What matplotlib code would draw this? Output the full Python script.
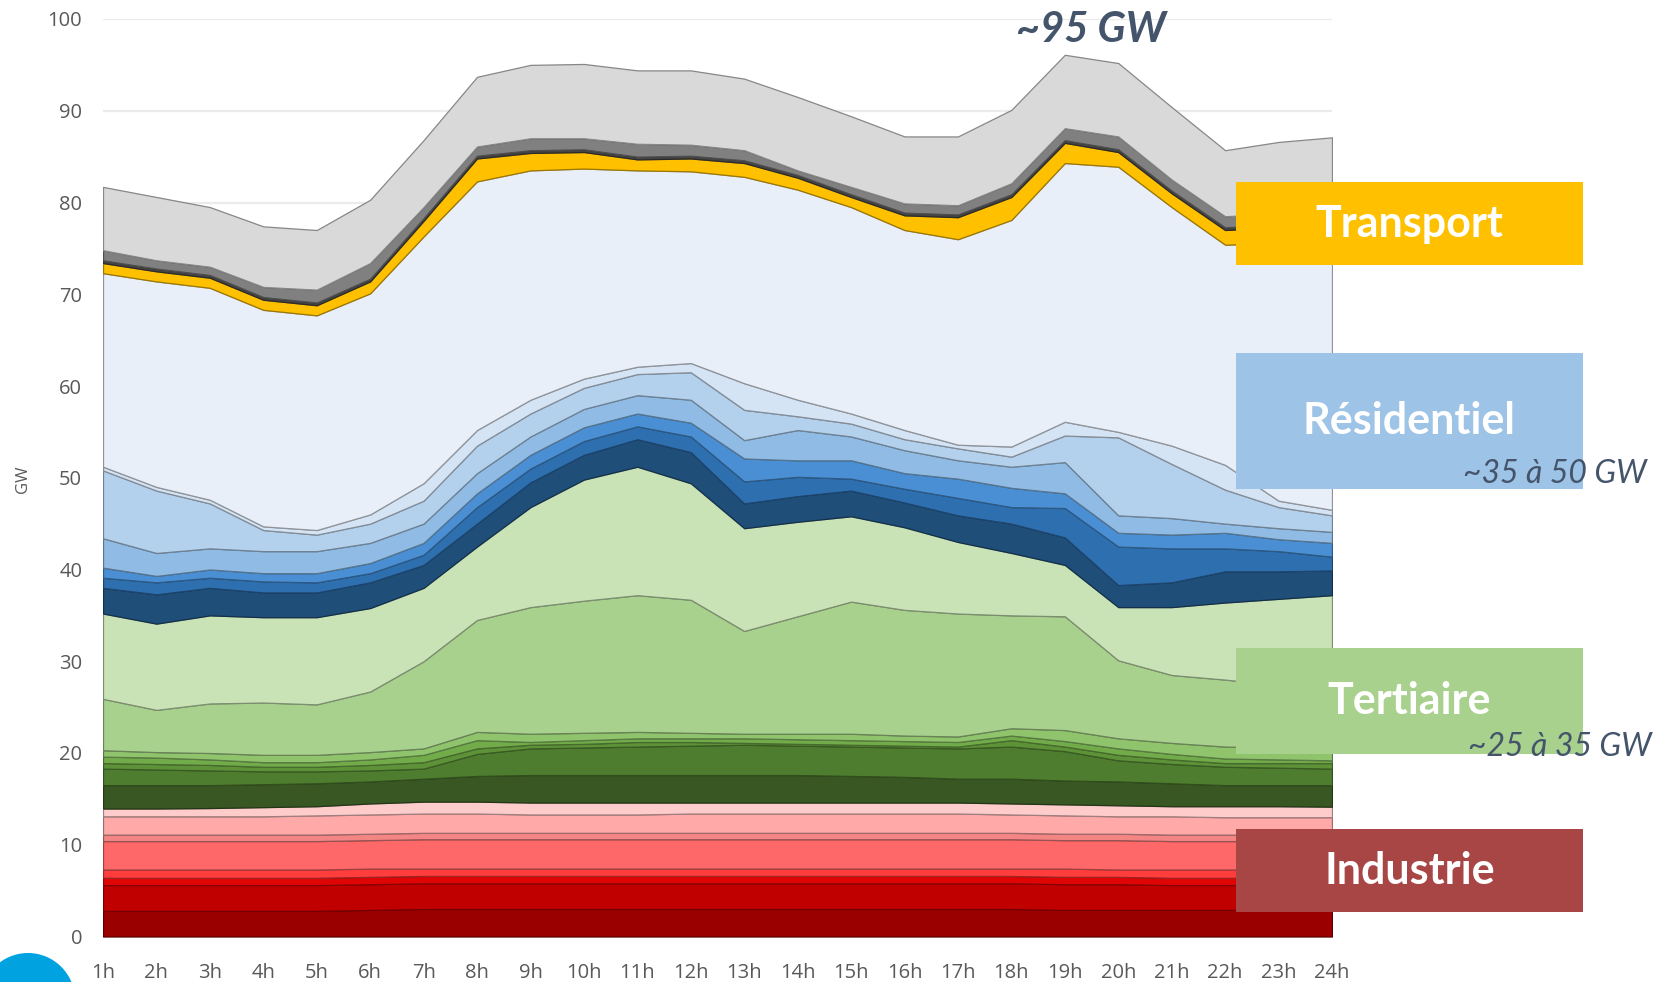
import numpy as np
import matplotlib
matplotlib.use("Agg")
import matplotlib.pyplot as plt
import matplotlib.colors as mcolors
from matplotlib.patches import Rectangle, Ellipse

W, H = 1663, 982

hours = list(range(1, 25))
hour_labels = [f"{h}h" for h in hours]

### boundaries (top of each layer, GW), bottom to top
# Industrie
r1 = [2.8, 2.8, 2.8, 2.8, 2.8, 2.9, 3.0, 3.0, 3.0, 3.0, 3.0, 3.0, 3.0, 3.0, 3.0, 3.0, 3.0, 3.0, 2.9, 2.9, 2.9, 2.9, 2.9, 2.9]
r2 = [5.6, 5.6, 5.6, 5.6, 5.6, 5.7, 5.8, 5.8, 5.8, 5.8, 5.8, 5.8, 5.8, 5.8, 5.8, 5.8, 5.8, 5.8, 5.7, 5.7, 5.6, 5.6, 5.6, 5.6]
r3 = [6.4, 6.4, 6.4, 6.4, 6.4, 6.5, 6.6, 6.6, 6.6, 6.6, 6.6, 6.6, 6.6, 6.6, 6.6, 6.6, 6.6, 6.6, 6.5, 6.5, 6.4, 6.4, 6.4, 6.4]
r4 = [7.3, 7.3, 7.3, 7.3, 7.3, 7.4, 7.4, 7.4, 7.4, 7.4, 7.4, 7.4, 7.4, 7.4, 7.4, 7.4, 7.4, 7.4, 7.4, 7.3, 7.3, 7.3, 7.3, 7.3]
r5 = [10.4, 10.4, 10.4, 10.4, 10.4, 10.5, 10.6, 10.6, 10.6, 10.6, 10.6, 10.6, 10.6, 10.6, 10.6, 10.6, 10.6, 10.6, 10.5, 10.5, 10.4, 10.4, 10.4, 10.4]
r6 = [11.1, 11.1, 11.1, 11.1, 11.1, 11.2, 11.3, 11.3, 11.3, 11.3, 11.3, 11.3, 11.3, 11.3, 11.3, 11.3, 11.3, 11.3, 11.2, 11.2, 11.1, 11.1, 11.1, 11.1]
r7 = [13.1, 13.1, 13.1, 13.1, 13.2, 13.3, 13.4, 13.4, 13.3, 13.3, 13.3, 13.4, 13.4, 13.4, 13.4, 13.4, 13.4, 13.3, 13.2, 13.1, 13.1, 13.0, 13.0, 13.0]
r8 = [13.95, 13.95, 14.0, 14.1, 14.2, 14.5, 14.7, 14.7, 14.6, 14.6, 14.6, 14.6, 14.6, 14.6, 14.6, 14.6, 14.6, 14.5, 14.4, 14.3, 14.2, 14.2, 14.2, 14.15]
# Tertiaire
g1 = [16.5, 16.5, 16.5, 16.6, 16.7, 16.9, 17.2, 17.5, 17.6, 17.6, 17.6, 17.6, 17.6, 17.6, 17.5, 17.4, 17.2, 17.2, 17.0, 16.9, 16.7, 16.5, 16.5, 16.5]
g2 = [18.3, 18.2, 18.1, 18.0, 18.0, 18.1, 18.3, 19.9, 20.5, 20.6, 20.7, 20.8, 20.9, 20.8, 20.7, 20.6, 20.5, 20.7, 20.2, 19.2, 18.8, 18.5, 18.4, 18.3]
g3 = [18.9, 18.8, 18.7, 18.5, 18.5, 18.7, 19.0, 20.5, 20.9, 21.0, 21.2, 21.2, 21.1, 21.0, 20.9, 20.8, 20.7, 21.4, 20.7, 19.8, 19.3, 18.9, 18.9, 18.9]
g4 = [19.6, 19.5, 19.3, 19.0, 19.0, 19.3, 19.8, 21.4, 21.2, 21.4, 21.6, 21.6, 21.6, 21.5, 21.4, 21.3, 21.2, 21.9, 21.3, 20.5, 19.9, 19.4, 19.3, 19.2]
g5 = [20.3, 20.1, 20.0, 19.8, 19.8, 20.1, 20.5, 22.3, 22.1, 22.2, 22.3, 22.2, 22.1, 22.1, 22.1, 21.9, 21.8, 22.7, 22.5, 21.6, 21.1, 20.7, 20.6, 20.5]
g6 = [25.9, 24.7, 25.4, 25.5, 25.3, 26.7, 30.0, 34.5, 35.9, 36.6, 37.2, 36.7, 33.3, 34.9, 36.5, 35.6, 35.2, 35.0, 34.9, 30.1, 28.5, 28.0, 27.4, 27.2]
g7 = [35.2, 34.1, 35.0, 34.8, 34.8, 35.8, 38.0, 42.5, 46.8, 49.8, 51.2, 49.4, 44.5, 45.2, 45.8, 44.6, 43.0, 41.8, 40.5, 35.9, 35.9, 36.4, 36.8, 37.2]
# Résidentiel
b1 = [38.0, 37.3, 38.0, 37.5, 37.5, 38.6, 40.5, 45.0, 49.5, 52.5, 54.2, 52.8, 47.2, 48.0, 48.6, 47.3, 45.9, 45.0, 43.5, 38.3, 38.6, 39.8, 39.8, 39.9]
b2 = [39.1, 38.6, 39.1, 38.7, 38.6, 39.6, 41.6, 46.8, 51.0, 54.0, 55.6, 54.5, 49.6, 50.1, 49.9, 48.8, 47.8, 46.8, 46.7, 42.5, 42.3, 42.3, 42.0, 41.4]
b3 = [40.2, 39.3, 40.0, 39.6, 39.6, 40.7, 42.9, 48.3, 52.5, 55.5, 57.0, 56.0, 52.1, 51.9, 51.9, 50.5, 49.9, 48.9, 48.3, 44.0, 43.8, 44.0, 43.3, 42.9]
b4 = [43.4, 41.8, 42.3, 42.0, 42.0, 42.9, 45.0, 50.5, 54.5, 57.5, 59.0, 58.5, 54.1, 55.2, 54.5, 53.0, 51.9, 51.2, 51.7, 45.9, 45.6, 45.0, 44.5, 44.1]
b5 = [50.8, 48.6, 47.2, 44.3, 43.8, 45.0, 47.5, 53.5, 57.0, 59.8, 61.3, 61.5, 57.4, 56.7, 55.9, 54.2, 53.2, 52.3, 54.6, 54.4, 51.5, 48.7, 46.8, 45.9]
b6 = [51.2, 49.0, 47.6, 44.7, 44.3, 46.0, 49.4, 55.2, 58.5, 60.8, 62.1, 62.5, 60.3, 58.5, 57.0, 55.2, 53.6, 53.4, 56.1, 55.0, 53.5, 51.4, 47.5, 46.5]
b7 = [72.3, 71.4, 70.7, 68.3, 67.7, 70.1, 76.3, 82.3, 83.5, 83.7, 83.5, 83.4, 82.8, 81.4, 79.5, 77.0, 76.0, 78.1, 84.3, 83.9, 79.5, 75.4, 75.6, 76.0]
# Transport and the rest
t1 = [73.4, 72.5, 71.8, 69.4, 68.8, 71.4, 78.0, 84.8, 85.4, 85.5, 84.7, 84.8, 84.3, 82.7, 80.6, 78.6, 78.4, 80.6, 86.5, 85.5, 81.0, 77.0, 77.3, 77.6]
k1 = [73.7, 72.8, 72.1, 69.7, 69.1, 71.7, 78.3, 85.1, 85.7, 85.8, 85.0, 85.1, 84.6, 83.0, 80.9, 78.9, 78.7, 80.9, 86.8, 85.8, 81.3, 77.3, 77.6, 77.9]
k2 = [74.8, 73.7, 73.0, 70.8, 70.5, 73.4, 79.5, 86.1, 87.0, 87.0, 86.4, 86.3, 85.7, 83.5, 81.7, 79.9, 79.7, 82.1, 88.1, 87.2, 82.5, 78.5, 78.8, 79.1]
total = [81.7, 80.6, 79.5, 77.4, 77.0, 80.3, 86.8, 93.7, 95.0, 95.1, 94.4, 94.4, 93.5, 91.5, 89.4, 87.2, 87.2, 90.1, 96.1, 95.2, 90.4, 85.7, 86.6, 87.1]

tops = [r1, r2, r3, r4, r5, r6, r7, r8,
        g1, g2, g3, g4, g5, g6, g7,
        b1, b2, b3, b4, b5, b6, b7,
        t1, k1, k2, total]
colors = ["#9a0000", "#c00000", "#df0505", "#ff3d3d", "#ff6868", "#f48585", "#ffa9a9", "#ffcccc",
          "#385723", "#4f7d2f", "#5e9238", "#72ac4a", "#8fc46c", "#a9d18e", "#c9e3b6",
          "#1f4e79", "#2e6fb0", "#4a8fd3", "#8fbbe4", "#b3d0ec", "#d5e4f4", "#e8eff8",
          "#ffc000", "#454545", "#808080", "#d9d9d9"]

fig = plt.figure(figsize=(W / 100, H / 100), dpi=100)
ax = fig.add_axes([103 / W, 45.5 / H, (1332 - 103) / W, 917.5 / H])

bottom = np.zeros(len(hours))
for top, c in zip(tops, colors):
    top = np.array(top)
    edge = np.array(mcolors.to_rgb(c)) * 0.62
    ax.fill_between(hours, bottom, top, facecolor=c, edgecolor=edge,
                    linewidth=0.9, zorder=2)
    bottom = top

ax.set_xlim(1, 24)
ax.set_ylim(0, 100)
ax.set_yticks(range(0, 101, 10))
ax.set_xticks(hours)
ax.set_xticklabels(hour_labels)
ax.grid(axis="y", color="#ebebeb", linewidth=1.6, zorder=0)
ax.set_axisbelow(True)
for s in ax.spines.values():
    s.set_visible(False)
ax.tick_params(length=0, labelsize=14.5, labelcolor="#595959")
ax.tick_params(axis="y", pad=15)
ax.tick_params(axis="x", pad=19)
for lab in ax.get_xticklabels() + ax.get_yticklabels():
    lab.set_family("Open Sans")

fig.text(23 / W, 1 - 479 / H, "GW", rotation=90, ha="center", va="center",
         fontsize=12, color="#595959", family="Open Sans")

# sector boxes on the right
boxes = [("Transport", "#ffc000", 182, 265),
         ("Résidentiel", "#9dc3e6", 353, 489),
         ("Tertiaire", "#a9d18e", 648, 754),
         ("Industrie", "#a84646", 829, 912)]
bx0, bx1 = 1236, 1583
for name, c, y0, y1 in boxes:
    fig.patches.append(Rectangle((bx0 / W, 1 - y1 / H), (bx1 - bx0) / W, (y1 - y0) / H,
                                 transform=fig.transFigure, facecolor=c,
                                 edgecolor="none", zorder=3))
    fig.text((bx0 + bx1) / 2 / W, 1 - (y0 + y1) / 2 / H, name, ha="center", va="center",
             fontsize=31, fontweight="bold", color="white", family="Lato", zorder=4)

fig.text(1555 / W, 1 - 474 / H, "~35 à 50 GW", ha="center", va="center", fontsize=23,
         style="italic", color="#44546a", family="Lato", zorder=5)
fig.text(1560 / W, 1 - 747 / H, "~25 à 35 GW", ha="center", va="center", fontsize=23,
         style="italic", color="#44546a", family="Lato", zorder=5)
fig.text(1091 / W, 1 - 30 / H, "~95 GW", ha="center", va="center", fontsize=30,
         style="italic", fontweight="bold", color="#44546a", family="Lato", zorder=5)

# blue disc in the lower left corner
fig.patches.append(Ellipse((28 / W, 1 - 1000 / H), 94 / W, 94 / H,
                           transform=fig.transFigure, facecolor="#00a3e0",
                           edgecolor="none", zorder=3, clip_on=False))

fig.savefig("out.png", dpi=100)
